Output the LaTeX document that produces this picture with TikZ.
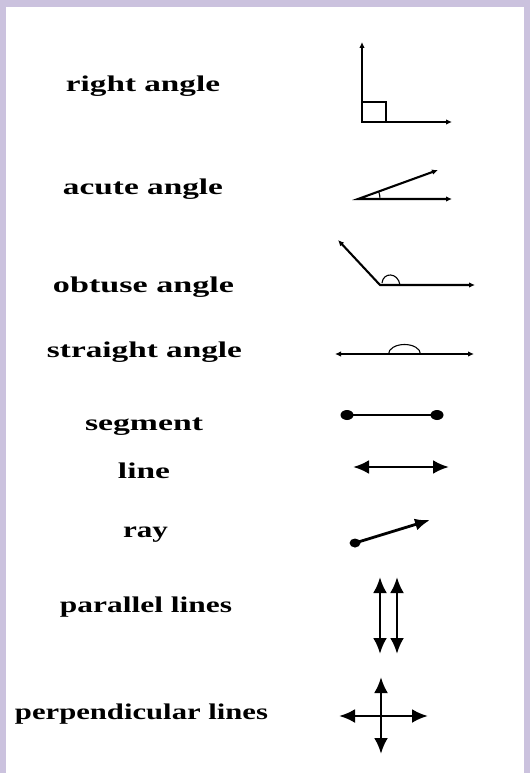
\documentclass[tikz,border=0pt]{standalone}
\usepackage{fontspec}
\setmainfont{Liberation Serif}
\usepackage{graphicx}
\usetikzlibrary{arrows.meta,shapes.geometric}
\definecolor{lav}{RGB}{203,194,222}
\newcommand\wlab[2]{\resizebox{#1pt}{\height}{#2}}
\begin{document}
\begin{tikzpicture}[x=1pt,y=-1pt,
  lab/.style={anchor=base, inner sep=0pt, font=\fontsize{22.5}{26}\selectfont\bfseries},
  thinfig/.style={line width=2.1pt, {Latex[length=6pt,width=5.5pt]}-{Latex[length=6pt,width=5.5pt]}},
  thinarc/.style={line width=1.1pt},
  boldfig/.style={line width=2.8pt, {Latex[length=16pt,width=14pt]}-{Latex[length=16pt,width=14pt]}},
  dot/.style={ellipse, fill, inner sep=0pt, minimum width=13pt, minimum height=10pt}]
\fill[lav] (0,0) rectangle (530,773);
\fill[white] (6,7) rectangle (524,773);
\useasboundingbox (0,0) rectangle (530,773);

% labels
\node[lab] (lra) at (143,92) {\wlab{154}{right angle}};
\node[lab] (lac) at (143,194) {\wlab{160}{acute angle}};
\node[lab] (lob) at (143.5,292) {\wlab{181}{obtuse angle}};
\node[lab] (lst) at (144.5,357) {\wlab{195}{straight angle}};
\node[lab] (lse) at (144,430) {\wlab{118}{segment}};
\node[lab] (lli) at (144,478) {\wlab{52}{line}};
\node[lab] (lry) at (145.5,537) {\wlab{45}{ray}};
\node[lab] (lpa) at (146,612) {\wlab{172}{parallel lines}};
\node[lab] (lpe) at (141.5,719) {\wlab{253}{perpendicular lines}};

% right angle
\coordinate (raT) at (362,42);
\coordinate (raV) at (362,122);
\coordinate (raR) at (452,122);
\draw[thinfig] (raT) -- (raV) -- (raR);
\draw[thinarc] (362,102) -- (386,102) -- (386,122);

% acute angle
\coordinate (acT) at (438,170);
\coordinate (acV) at (358,199);
\coordinate (acR) at (452,199);
\draw[thinfig] (acT) -- (acV) -- (acR);
\draw[thinarc] (380,199) arc[start angle=0, end angle=-20, radius=22];

% obtuse angle
\coordinate (obT) at (338,240);
\coordinate (obV) at (380,285);
\coordinate (obR) at (475,285);
\draw[thinfig] (obT) -- (obV) -- (obR);
\draw[thinarc] (382,283) .. controls (383,272) and (398,272) .. (400,285);

% straight angle
\coordinate (stL) at (335,354);
\coordinate (stR) at (474,354);
\draw[thinfig] (stL) -- (stR);
\draw[thinarc] (388.5,354) arc[start angle=180, end angle=360, x radius=16, y radius=9.5];

% segment
\node[dot] (se1) at (347,415) {};
\node[dot] (se2) at (437,415) {};
\draw[line width=2.8pt] (se1.center) -- (se2.center);

% line
\coordinate (liL) at (353,467);
\coordinate (liR) at (449,467);
\draw[boldfig] (liL) -- (liR);

% ray
\node[dot, minimum width=11pt, minimum height=9pt] (ry1) at (355,543) {};
\coordinate (ry2) at (430,520);
\draw[line width=2.8pt, -{Latex[length=15pt,width=12pt]}] (ry1.center) -- (ry2);

% parallel lines
\coordinate (pa1T) at (380,577);
\coordinate (pa1B) at (380,654);
\coordinate (pa2T) at (397,577);
\coordinate (pa2B) at (397,654);
\draw[boldfig] (pa1T) -- (pa1B);
\draw[boldfig] (pa2T) -- (pa2B);

% perpendicular lines
\coordinate (peT) at (381,677);
\coordinate (peB) at (381,754);
\coordinate (peL) at (339,716);
\coordinate (peR) at (428,716);
\draw[boldfig] (peT) -- (peB);
\draw[boldfig] (peL) -- (peR);
\end{tikzpicture}
\end{document}
